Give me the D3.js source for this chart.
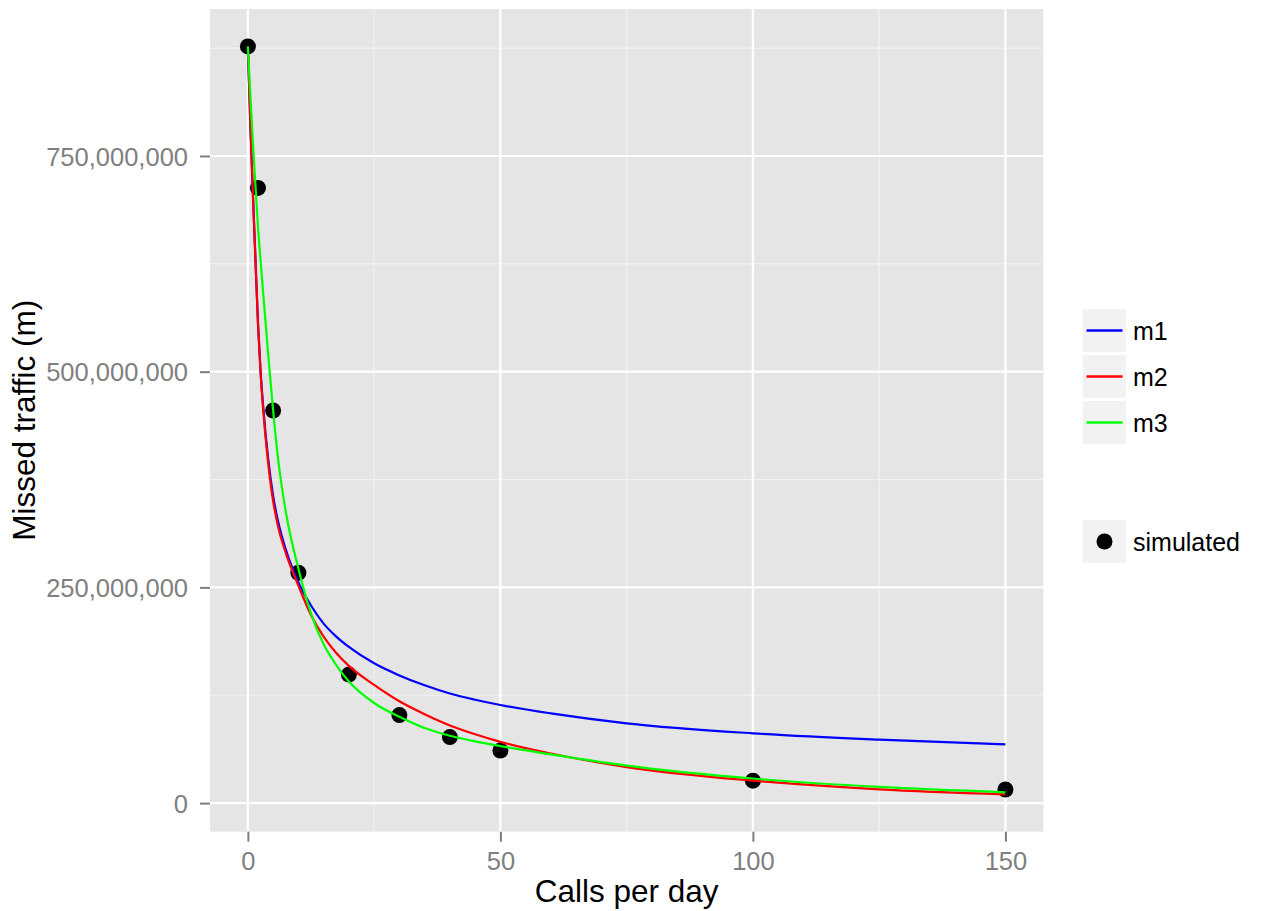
<!DOCTYPE html>
<html>
<head>
<meta charset="utf-8">
<script src="https://cdn.jsdelivr.net/npm/d3@7"></script>
<style>
  body { margin: 0; background: #fff; }
  text { font-family: "Liberation Sans", Arial, sans-serif; }
</style>
</head>
<body>
<div id="chart"></div>
<script>
// simulated points
const simX = [0, 2, 5, 10, 20, 30, 40, 50, 100, 150];
const simY = [877e6, 713e6, 455e6, 267e6, 149e6, 102e6, 76.5e6, 61e6, 26e6, 15.8e6];

// fitted curves (millions)
const curveX = [0, 0.5, 1, 1.5, 2, 2.5, 3, 4, 5, 6, 7.5, 10, 12.5, 15, 17.5, 20, 25, 30, 35, 40, 45, 50, 60, 75, 100, 125, 150];
const m1 = [877, 785, 705, 630, 557, 502, 462, 400, 356, 326, 294, 256, 229, 208, 193, 181, 162, 148, 136.5, 127, 119.8, 113.7, 104, 92.5, 80.9, 73.5, 68];
const m2 = [877, 785, 705, 630, 556, 500, 458, 395, 350, 320, 290, 252, 218, 193, 174, 159, 137, 118, 103, 90, 79.8, 71, 57.5, 41.8, 26, 16, 10.2];
const m3 = [877, 820, 765, 716, 668, 630, 593, 522, 455, 398, 338, 272, 220, 184, 160, 141, 116, 100, 87, 78, 71.5, 66, 56.5, 43.5, 28.5, 18.7, 12.5];

const seriesNames = ["m1", "m2", "m3"];
const seriesColors = ["#0000FF", "#FF0000", "#00FF00"];
const xTicks = [0, 50, 100, 150];
const xMinor = [25, 75, 125];
const yTicks = [0, 250e6, 500e6, 750e6];
const yMinor = [125e6, 375e6, 625e6, 875e6];

const W = 1261, H = 911;
const panel = { left: 210, right: 1043.3, top: 9, bottom: 831.7 };

const svg = d3.select("#chart").append("svg")
    .attr("width", W)
    .attr("height", H);

const lines = [m1, m2, m3].map((vals, i) => ({
  name: seriesNames[i],
  color: seriesColors[i],
  pts: curveX.map((x, j) => ({ x: x, y: vals[j] * 1e6 }))
}));
const sim = simX.map((x, i) => ({ x: x, y: simY[i] }));

// ggplot-style 5% expansion
const allY = sim.map(d => d.y).concat(...lines.map(l => l.pts.map(d => d.y)));
const [y0, y1] = d3.extent(allY);
const [x0, x1] = d3.extent(simX);
const xPad = (x1 - x0) * 0.05, yPad = (y1 - y0) * 0.05;

const x = d3.scaleLinear()
    .domain([x0 - xPad, x1 + xPad])
    .range([panel.left, panel.right]);

const y = d3.scaleLinear()
    .domain([y0 - yPad, y1 + yPad])
    .range([panel.bottom, panel.top]);

// panel background
svg.append("rect")
    .attr("x", panel.left)
    .attr("y", panel.top)
    .attr("width", panel.right - panel.left)
    .attr("height", panel.bottom - panel.top)
    .attr("fill", "#E5E5E5");

// minor grid
svg.append("g").selectAll("line")
  .data(xMinor)
  .join("line")
    .attr("x1", d => x(d)).attr("x2", d => x(d))
    .attr("y1", panel.top).attr("y2", panel.bottom)
    .attr("stroke", "#F2F2F2").attr("stroke-width", 1.2);

svg.append("g").selectAll("line")
  .data(yMinor)
  .join("line")
    .attr("y1", d => y(d)).attr("y2", d => y(d))
    .attr("x1", panel.left).attr("x2", panel.right)
    .attr("stroke", "#F2F2F2").attr("stroke-width", 1.2);

// major grid
svg.append("g").selectAll("line")
  .data(xTicks)
  .join("line")
    .attr("x1", d => x(d)).attr("x2", d => x(d))
    .attr("y1", panel.top).attr("y2", panel.bottom)
    .attr("stroke", "#FFFFFF").attr("stroke-width", 2.2);

svg.append("g").selectAll("line")
  .data(yTicks)
  .join("line")
    .attr("y1", d => y(d)).attr("y2", d => y(d))
    .attr("x1", panel.left).attr("x2", panel.right)
    .attr("stroke", "#FFFFFF").attr("stroke-width", 2.2);

// axes
const xAxis = svg.append("g")
    .attr("transform", `translate(0,${panel.bottom})`)
    .call(d3.axisBottom(x).tickValues(xTicks).tickSize(10).tickPadding(10).tickFormat(d3.format("d")));

const yAxis = svg.append("g")
    .attr("transform", `translate(${panel.left},0)`)
    .call(d3.axisLeft(y).tickValues(yTicks).tickSize(10).tickPadding(12).tickFormat(d3.format(",")));

[xAxis, yAxis].forEach(ax => {
  ax.select(".domain").remove();
  ax.selectAll(".tick line").attr("stroke", "#7F7F7F").attr("stroke-width", 2);
  ax.selectAll(".tick text")
    .attr("fill", "#7F7F7F")
    .style("font-size", "25.5px")
    .style("font-family", "'Liberation Sans', Arial, sans-serif");
});
yAxis.selectAll(".tick text").attr("dy", "0.36em");

// points first, lines drawn over them
svg.append("g").selectAll("circle")
  .data(sim)
  .join("circle")
    .attr("cx", d => x(d.x))
    .attr("cy", d => y(d.y))
    .attr("r", 8)
    .attr("fill", "#000");

const line = d3.line()
    .x(d => x(d.x))
    .y(d => y(d.y))
    .curve(d3.curveMonotoneX);

svg.append("g").selectAll("path")
  .data(lines)
  .join("path")
    .attr("d", d => line(d.pts))
    .attr("fill", "none")
    .attr("stroke", d => d.color)
    .attr("stroke-width", 2.2);

// axis titles
svg.append("text")
    .attr("x", (panel.left + panel.right) / 2)
    .attr("y", 902)
    .attr("text-anchor", "middle")
    .style("font-size", "31.5px")
    .attr("fill", "#000")
    .text("Calls per day");

svg.append("text")
    .attr("transform", `translate(35,${(panel.top + panel.bottom) / 2}) rotate(-90)`)
    .attr("text-anchor", "middle")
    .style("font-size", "31.5px")
    .attr("fill", "#000")
    .text("Missed traffic (m)");

// legend: lines
const keyX = 1083, keySize = 43;
const lineLegend = svg.append("g").selectAll("g")
  .data(lines)
  .join("g")
    .attr("transform", (d, i) => `translate(${keyX},${309 + i * 46})`);

lineLegend.append("rect")
    .attr("width", keySize).attr("height", keySize)
    .attr("fill", "#F2F2F2");

lineLegend.append("line")
    .attr("x1", 3.5).attr("x2", keySize - 3.5)
    .attr("y1", keySize / 2).attr("y2", keySize / 2)
    .attr("stroke", d => d.color)
    .attr("stroke-width", 2.5);

lineLegend.append("text")
    .attr("x", keySize + 7)
    .attr("y", keySize / 2)
    .attr("dy", "0.36em")
    .style("font-size", "25px")
    .text(d => d.name);

// legend: points
const ptLegend = svg.append("g")
    .attr("transform", `translate(${keyX},520)`);

ptLegend.append("rect")
    .attr("width", keySize).attr("height", keySize)
    .attr("fill", "#F2F2F2");

ptLegend.append("circle")
    .attr("cx", keySize / 2).attr("cy", keySize / 2)
    .attr("r", 8).attr("fill", "#000");

ptLegend.append("text")
    .attr("x", keySize + 7)
    .attr("y", keySize / 2)
    .attr("dy", "0.36em")
    .style("font-size", "25px")
    .text("simulated");
</script>
</body>
</html>
